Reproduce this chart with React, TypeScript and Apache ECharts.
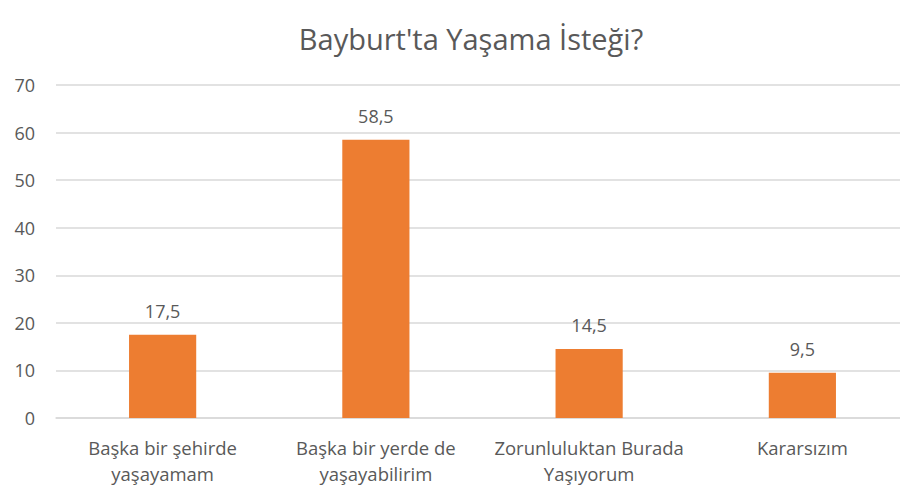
import React, { useEffect, useRef } from "react";
import * as echarts from "echarts";

const categories = [
  "Başka bir şehirde\nyaşayamam",
  "Başka bir yerde de\nyaşayabilirim",
  "Zorunluluktan Burada\nYaşıyorum",
  "Kararsızım",
];
const values = [17.5, 58.5, 14.5, 9.5];
const titleText = "Bayburt'ta Yaşama İsteği?";

const FONT = "'Open Sans', 'Noto Sans', sans-serif";
const GREY = "#595959";

export default function App() {
  const ref = useRef<HTMLDivElement>(null);
  useEffect(() => {
    if (!ref.current) return;
    const chart = echarts.init(ref.current, undefined, { renderer: "svg" });
    chart.setOption({
      animation: false,
      backgroundColor: "#ffffff",
      textStyle: { fontFamily: FONT },
      title: {
        text: titleText,
        left: 466,
        textAlign: "center",
        top: 19,
        textStyle: { fontFamily: FONT, fontSize: 29, fontWeight: "normal", color: GREY },
      },
      grid: { left: 56, right: 0, top: 85, bottom: 72, containLabel: false },
      xAxis: {
        type: "category",
        data: categories,
        axisLine: { show: true, lineStyle: { color: "#d9d9d9", width: 1.5 } },
        axisTick: { show: false },
        axisLabel: {
          color: GREY,
          fontSize: 18.5,
          fontFamily: FONT,
          lineHeight: 26,
          margin: 16,
          interval: 0,
        },
      },
      yAxis: {
        type: "value",
        min: 0,
        max: 70,
        interval: 10,
        axisLine: { show: false },
        axisTick: { show: false },
        axisLabel: { color: GREY, fontSize: 18, fontFamily: FONT, margin: 21 },
        splitLine: { lineStyle: { color: "#d9d9d9", width: 1.5 } },
      },
      series: [
        {
          type: "bar",
          data: values,
          barWidth: "31.5%",
          itemStyle: { color: "#ED7D31" },
          label: {
            show: true,
            position: "top",
            distance: 15,
            color: GREY,
            fontSize: 18,
            fontFamily: FONT,
            formatter: (p: any) => String(p.value).replace(".", ","),
          },
        },
      ],
    });
    return () => chart.dispose();
  }, []);
  return (
    <div style={{ position: "fixed", left: 0, top: 0, width: 900, height: 490, overflow: "hidden", background: "#fff" }}>
      <div ref={ref} style={{ width: 909, height: 490 }} />
    </div>
  );
}
